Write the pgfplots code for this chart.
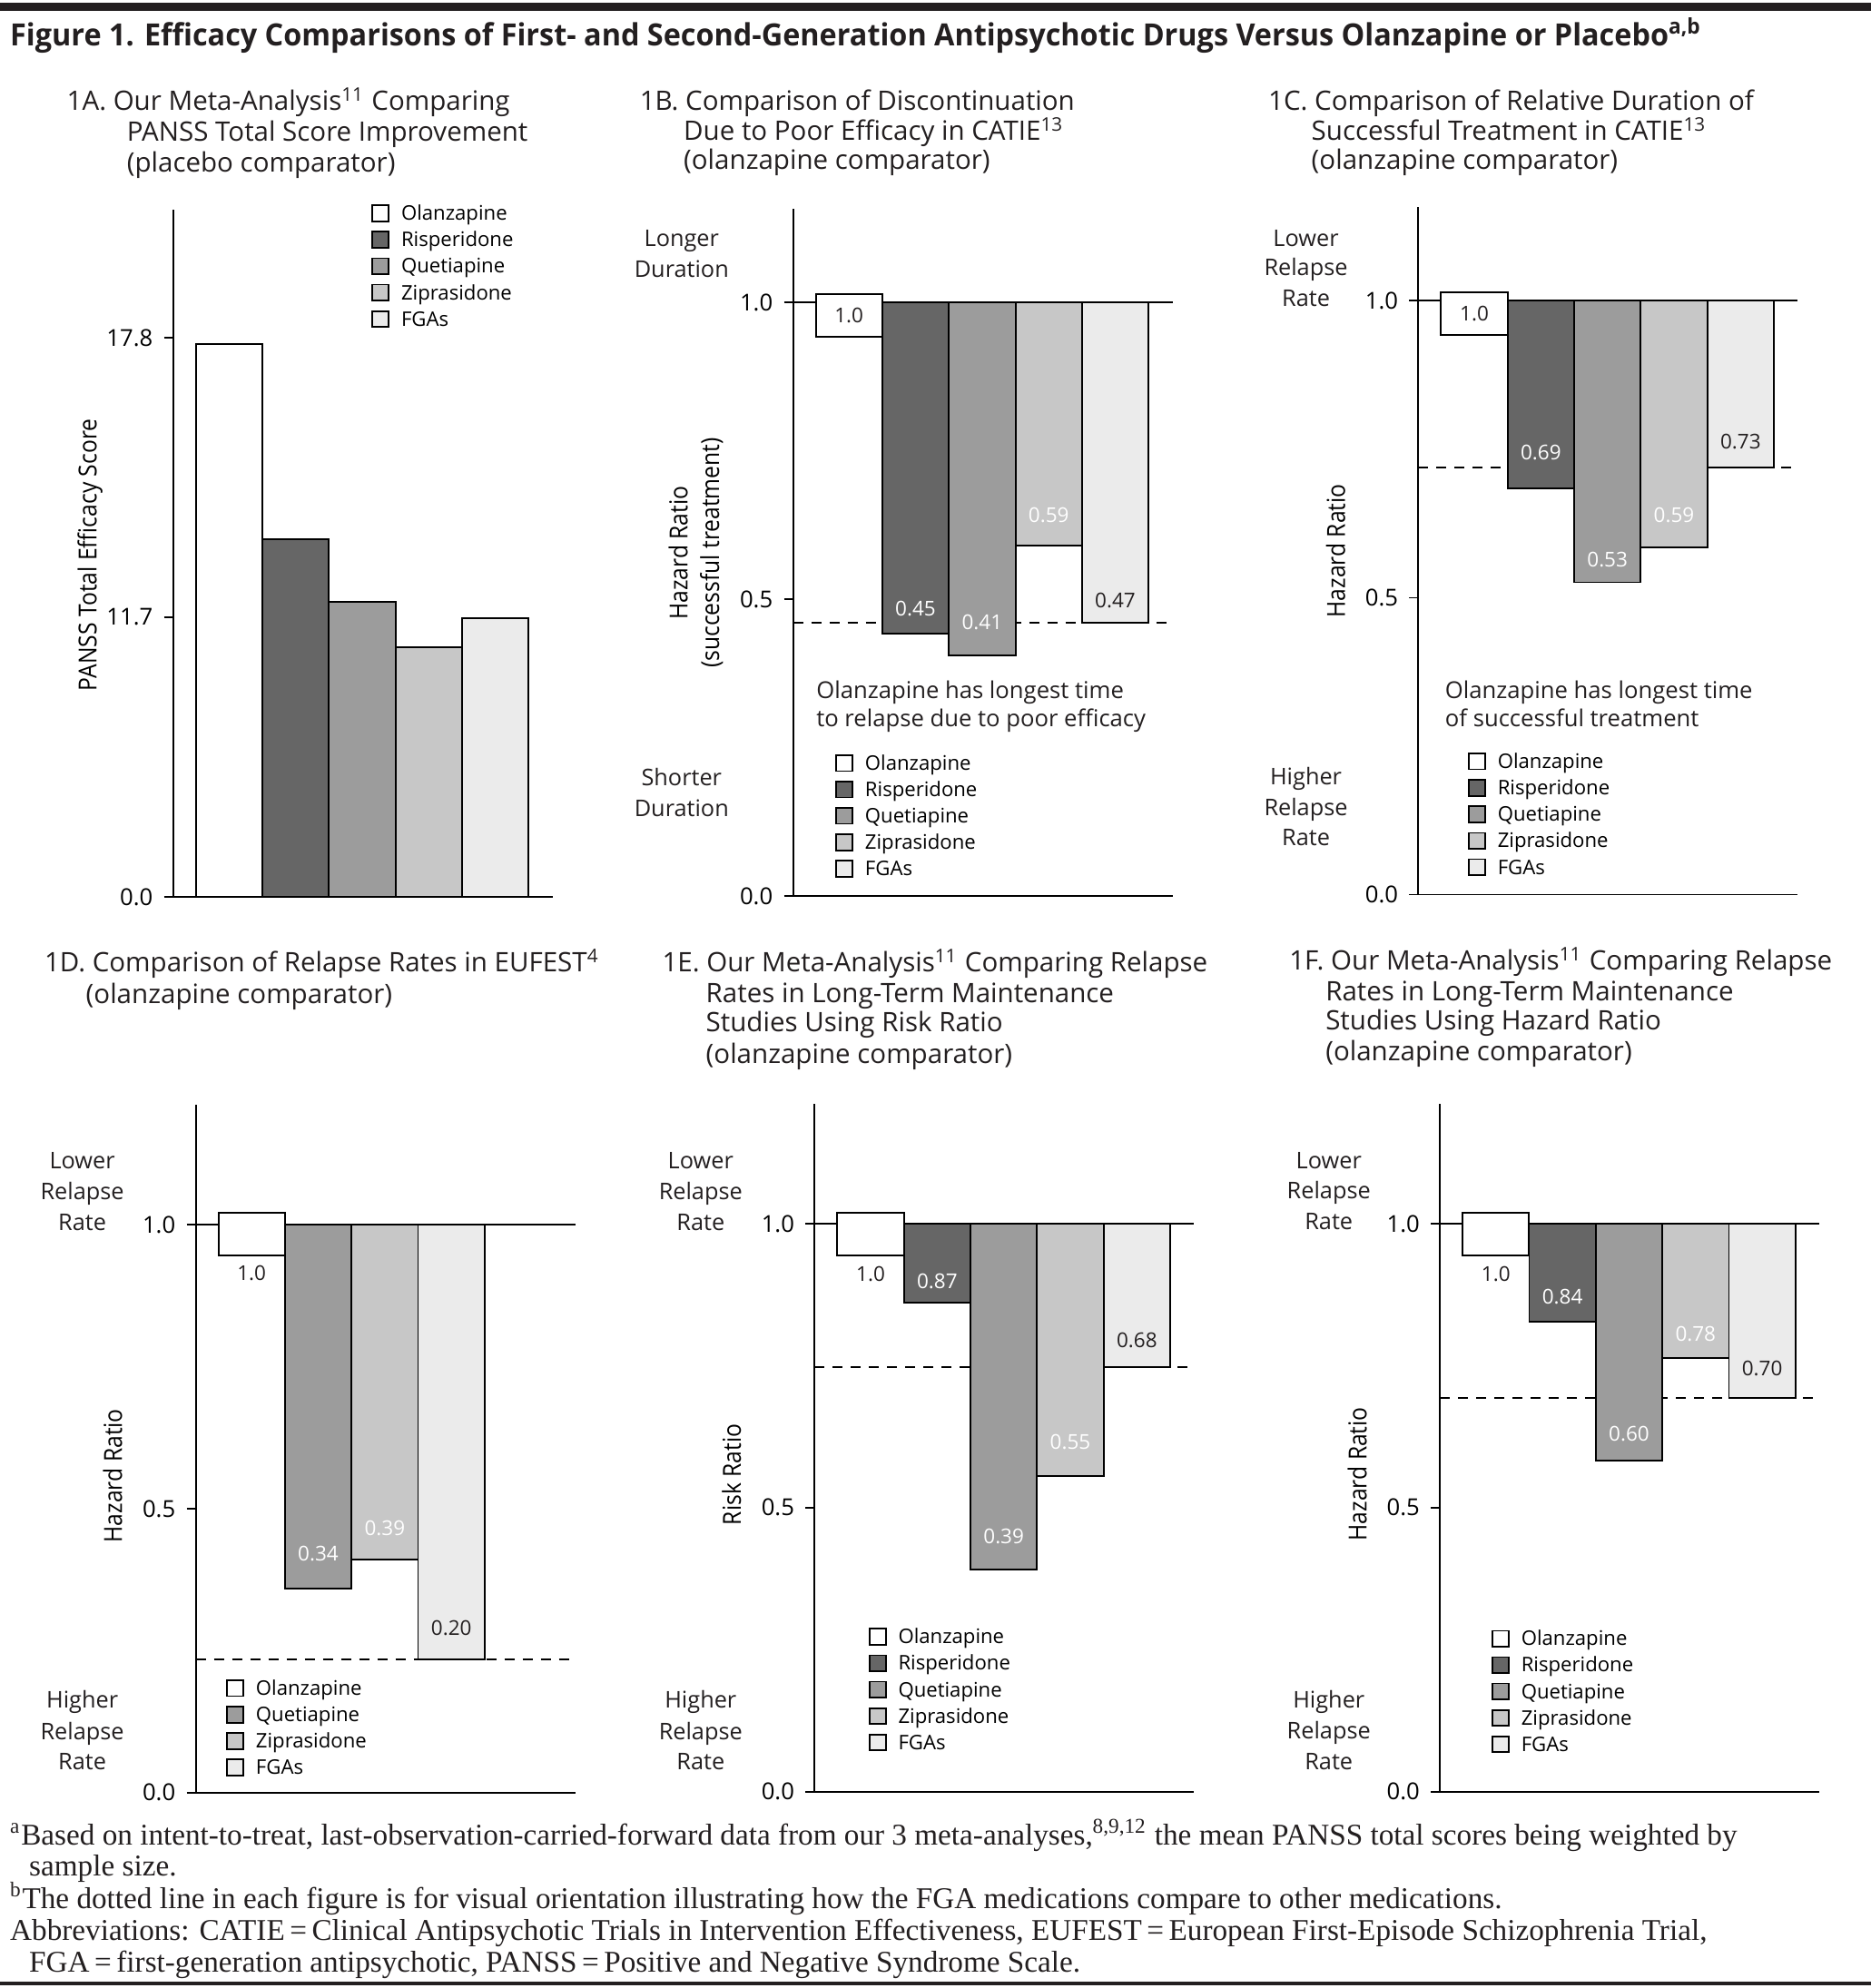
\documentclass[border=0pt]{standalone}
\usepackage{fontspec}
\usepackage{pgfplots}
\pgfplotsset{compat=1.18}
\setmainfont{Open Sans}
\newfontfamily\cond{Open Sans}[FakeStretch=0.9]
\newfontfamily\ttl{Open Sans}[FakeStretch=0.96]
\newfontfamily\foot{Liberation Serif}
\newcommand\fs[2]{\fontsize{#1}{#2}\selectfont}

\definecolor{cR}{gray}{0.40}
\definecolor{cQ}{gray}{0.61}
\definecolor{cZ}{gray}{0.78}
\definecolor{cF}{gray}{0.92}
\definecolor{ink}{HTML}{231F20}

\pgfplotsset{
  panel/.style={
    scale only axis, width=4.18cm, height=7.574cm, anchor=south west,
    xmin=-0.84, xmax=4.86, xtick=\empty,
    axis x line*=bottom, axis y line*=left,
    axis line style={line width=0.55pt, -},
    tick align=outside, major tick length=0.1cm,
    tick style={line width=0.55pt, black},
    yticklabel style={font=\fs{7.3}{8}},
    every axis y label/.style={rotate=90, anchor=center, align=center, font=\cond\fs{7.8}{9.9}},
    legend image code/.code={\draw[##1, line width=0.5pt] (0cm,-0.08cm) rectangle (0.18cm,0.095cm);},
    legend cell align=left,
    legend style={draw=none, fill=none, inner sep=0pt, outer sep=0pt, anchor=north west,
      font=\fs{6.3}{7.5}, row sep=0.051cm, column sep=0.13cm,
      nodes={inner sep=0pt, text height=0.19cm, text depth=0.05cm}},
  },
  hang/.style={panel, clip=false,
    y coord trafo/.code={\pgfmathparse{##1-1}},
    y coord inv trafo/.code={\pgfmathparse{##1+1}},
    ymin=0, ytick={0,0.5,1}, yticklabels={0.0,0.5,1.0}},
  ab/.style={ybar, bar width=1, bar shift=0pt, draw=black, line width=0.55pt, forget plot, fill=#1},
  hb/.style n args={3}{ybar, bar width=1, bar shift=0pt, draw=black, line width=0.55pt,
    forget plot, fill=#1, nodes near coords, point meta=explicit symbolic,
    every node near coord/.append style={font=\fs{6.4}{7}, anchor=center, inner sep=0pt,
      text=#2, yshift=#3*0.014cm}},
  olbox/.style={forget plot, draw=none, mark=none, nodes near coords, point meta=explicit symbolic,
    every node near coord/.append style={draw=black, fill=white, line width=0.55pt,
      minimum width=0.733cm, minimum height=0.47cm, inner sep=0pt, anchor=north,
      yshift=#1, font=\fs{6.4}{7}, text=ink}},
  olab/.style={forget plot, draw=none, mark=none, nodes near coords, point meta=explicit symbolic,
    every node near coord/.append style={anchor=center, inner sep=0pt, yshift=#1,
      font=\fs{6.4}{7}, text=ink}},
  ref/.style={forget plot, mark=none, black, line width=0.55pt},
  dsh/.style={forget plot, mark=none, black, line width=0.55pt, dash pattern=on 0.11cm off 0.09cm},
}

\newcommand\legO{\addlegendimage{fill=white,draw=black}\addlegendentry{Olanzapine}}
\newcommand\legR{\addlegendimage{fill=cR,draw=black}\addlegendentry{Risperidone}}
\newcommand\legQ{\addlegendimage{fill=cQ,draw=black}\addlegendentry{Quetiapine}}
\newcommand\legZ{\addlegendimage{fill=cZ,draw=black}\addlegendentry{Ziprasidone}}
\newcommand\legF{\addlegendimage{fill=cF,draw=black}\addlegendentry{FGAs}}

\begin{document}
\begin{tikzpicture}
\useasboundingbox (0,0) rectangle (20.6,-21.9);

% ---------- 1A ----------
\begin{axis}[panel, at={(1.907cm,-9.884cm)}, ymin=5.58, ymax=20.60,
  ytick={5.58,11.7,17.8}, yticklabels={0.0,11.7,17.8},
  ylabel={PANSS Total Efficacy Score},
  ylabel style={at={(axis description cs:-0.219,0.498)}},
  legend style={at={(axis description cs:0.523,1.0096)}}]
\legO \legR \legQ \legZ \legF
\addplot[ab=white] coordinates {(0,17.67)};
\addplot[ab=cR] coordinates {(1,13.40)};
\addplot[ab=cQ] coordinates {(2,12.04)};
\addplot[ab=cZ] coordinates {(3,11.05)};
\addplot[ab=cF] coordinates {(4,11.68)};
\end{axis}

% ---------- 1B ----------
\begin{axis}[hang, at={(8.736cm,-9.873cm)}, ymax=1.158,
  ylabel={Hazard Ratio\\(successful treatment)},
  ylabel style={at={(axis description cs:-0.256,0.4995)}},
  legend style={at={(axis description cs:0.1115,0.2085)}}]
\legO \legR \legQ \legZ \legF
\addplot[dsh] coordinates {(-0.84,0.460) (4.86,0.460)};
\addplot[ref] coordinates {(-0.84,1) (4.86,1)};
\addplot[hb={cR}{white}{19.7}] coordinates {(1,0.442) [0.45]};
\addplot[hb={cQ}{white}{26}] coordinates {(2,0.406) [0.41]};
\addplot[hb={cZ}{white}{24}] coordinates {(3,0.590) [0.59]};
\addplot[hb={cF}{ink}{17.6}] coordinates {(4,0.460) [0.47]};
\addplot[olbox=0.105cm] coordinates {(0,1) [1.0]};
\end{axis}

% ---------- 1C ----------
\begin{axis}[hang, at={(15.624cm,-9.855cm)}, ymax=1.158,
  ylabel={Hazard Ratio},
  ylabel style={at={(axis description cs:-0.218,0.50)}},
  legend style={at={(axis description cs:0.1306,0.2085)}}]
\legO \legR \legQ \legZ \legF
\addplot[dsh] coordinates {(-0.84,0.720) (4.86,0.720)};
\addplot[ref] coordinates {(-0.84,1) (4.86,1)};
\addplot[hb={cR}{white}{28.6}] coordinates {(1,0.684) [0.69]};
\addplot[hb={cQ}{white}{17.7}] coordinates {(2,0.526) [0.53]};
\addplot[hb={cZ}{white}{25.2}] coordinates {(3,0.585) [0.59]};
\addplot[hb={cF}{ink}{20.2}] coordinates {(4,0.720) [0.73]};
\addplot[olbox=0.101cm] coordinates {(0,1) [1.0]};
\end{axis}

% ---------- 1D ----------
\begin{axis}[hang, at={(2.156cm,-19.748cm)}, ymax=1.2106,
  ylabel={Hazard Ratio},
  ylabel style={at={(axis description cs:-0.219,0.461)}},
  legend style={at={(axis description cs:0.0804,0.1667)}}]
\legO \legQ \legZ \legF
\addplot[dsh] coordinates {(-0.84,0.234) (4.86,0.234)};
\addplot[ref] coordinates {(-0.84,1) (4.86,1)};
\addplot[hb={cQ}{white}{27.7}] coordinates {(1,0.359) [0.34]};
\addplot[hb={cZ}{white}{24.6}] coordinates {(2,0.411) [0.39]};
\addplot[hb={cF}{ink}{24.6}] coordinates {(3,0.234) [0.20]};
\addplot[olbox=0.137cm] coordinates {(0,1) [\phantom{1}]};
\addplot[olab=-0.532cm] coordinates {(0,1) [1.0]};
\end{axis}

% ---------- 1E ----------
\begin{axis}[hang, at={(8.974cm,-19.736cm)}, ymax=1.2106,
  ylabel={Risk Ratio},
  ylabel style={at={(axis description cs:-0.219,0.461)}},
  legend style={at={(axis description cs:0.142,0.240)}}]
\legO \legR \legQ \legZ \legF
\addplot[dsh] coordinates {(-0.84,0.748) (4.86,0.748)};
\addplot[ref] coordinates {(-0.84,1) (4.86,1)};
\addplot[hb={cR}{white}{16.6}] coordinates {(1,0.861) [0.87]};
\addplot[hb={cQ}{white}{26.4}] coordinates {(2,0.391) [0.39]};
\addplot[hb={cZ}{white}{26.3}] coordinates {(3,0.556) [0.55]};
\addplot[hb={cF}{ink}{21}] coordinates {(4,0.748) [0.68]};
\addplot[olbox=0.125cm] coordinates {(0,1) [\phantom{1}]};
\addplot[olab=-0.557cm] coordinates {(0,1) [1.0]};
\end{axis}

% ---------- 1F ----------
\begin{axis}[hang, at={(15.862cm,-19.736cm)}, ymax=1.2106,
  ylabel={Hazard Ratio},
  ylabel style={at={(axis description cs:-0.218,0.462)}},
  legend style={at={(axis description cs:0.136,0.2373)}}]
\legO \legR \legQ \legZ \legF
\addplot[dsh] coordinates {(-0.84,0.693) (4.86,0.693)};
\addplot[ref] coordinates {(-0.84,1) (4.86,1)};
\addplot[hb={cR}{white}{19.2}] coordinates {(1,0.828) [0.84]};
\addplot[hb={cQ}{white}{21}] coordinates {(2,0.583) [0.60]};
\addplot[hb={cZ}{white}{19.2}] coordinates {(3,0.763) [0.78]};
\addplot[hb={cF}{ink}{23.3}] coordinates {(4,0.693) [0.70]};
\addplot[olbox=0.125cm] coordinates {(0,1) [\phantom{1}]};
\addplot[olab=-0.557cm] coordinates {(0,1) [1.0]};
\end{axis}

% ---------- texts ----------
\begin{scope}[x=0.014cm, y=-0.014cm, every node/.style={inner sep=0pt, outer sep=0pt, text=ink}]
\fill[ink] (0,2.4) rectangle (1471.4,8.5);
\fill[ink] (0,1558.5) rectangle (1471.4,1561);
\node[anchor=base west, font=\ttl\bfseries\fs{9.6}{11}] at (8,36)
  {Figure 1. Efficacy Comparisons of First- and Second-Generation Antipsychotic Drugs Versus Olanzapine or Placebo\textsuperscript{a,b}};

\begin{scope}[every node/.append style={anchor=base west, font=\fs{8.4}{9.6}}]
\node at (52.6,87) {1A. Our Meta-Analysis\textsuperscript{11} Comparing};
\node at (99.8,111) {PANSS Total Score Improvement};
\node at (99.8,135) {(placebo comparator)};
\node at (503.2,87) {1B. Comparison of Discontinuation};
\node at (537.7,110) {Due to Poor Efficacy in CATIE\textsuperscript{13}};
\node at (537.7,133) {(olanzapine comparator)};
\node at (997.5,87) {1C. Comparison of Relative Duration of};
\node at (1031.4,110) {Successful Treatment in CATIE\textsuperscript{13}};
\node at (1031.4,133) {(olanzapine comparator)};
\node at (35,764.5) {1D. Comparison of Relapse Rates in EUFEST\textsuperscript{4}};
\node at (67.6,789) {(olanzapine comparator)};
\node at (520.8,764.5) {1E. Our Meta-Analysis\textsuperscript{11} Comparing Relapse};
\node at (555.2,788.2) {Rates in Long-Term Maintenance};
\node at (555.2,811.4) {Studies Using Risk Ratio};
\node at (555.2,836) {(olanzapine comparator)};
\node at (1014,763) {1F. Our Meta-Analysis\textsuperscript{11} Comparing Relapse};
\node at (1042.5,787) {Rates in Long-Term Maintenance};
\node at (1042.5,810) {Studies Using Hazard Ratio};
\node at (1042.5,834) {(olanzapine comparator)};
\end{scope}

\begin{scope}[every node/.append style={anchor=base, font=\fs{7.2}{9}}]
\node at (536,194) {Longer};  \node at (536,218) {Duration};
\node at (536,618) {Shorter}; \node at (536,642) {Duration};
\node at (1027,193.5) {Lower};  \node at (1027,217) {Relapse};  \node at (1027,241) {Rate};
\node at (1027,617.5) {Higher}; \node at (1027,641.5) {Relapse}; \node at (1027,665) {Rate};
\node at (64.7,919.5) {Lower};  \node at (64.7,943.5) {Relapse}; \node at (64.7,967.5) {Rate};
\node at (64.7,1343.5) {Higher};\node at (64.7,1368) {Relapse};  \node at (64.7,1392) {Rate};
\node at (551,919.5) {Lower};   \node at (551,943.5) {Relapse};  \node at (551,967.5) {Rate};
\node at (551,1343.5) {Higher}; \node at (551,1368) {Relapse};   \node at (551,1391.5) {Rate};
\node at (1045,919) {Lower};    \node at (1045,943) {Relapse};   \node at (1045,967) {Rate};
\node at (1045,1343.5) {Higher};\node at (1045,1367.5) {Relapse};\node at (1045,1391.5) {Rate};
\end{scope}

\begin{scope}[every node/.append style={anchor=base west, font=\fs{7.3}{8.7}}]
\node at (642,549.5) {Olanzapine has longest time};
\node at (642,571.3) {to relapse due to poor efficacy};
\node at (1136.5,549.5) {Olanzapine has longest time};
\node at (1136.5,571.3) {of successful treatment};
\end{scope}

\begin{scope}[every node/.append style={anchor=base west, font=\foot\fs{9.45}{11}}]
\node at (8,1451) {\textsuperscript{a}Based on intent-to-treat, last-observation-carried-forward data from our 3 meta-analyses,\textsuperscript{8,9,12} the mean PANSS total scores being weighted by};
\node at (23,1475) {sample size.};
\node at (8,1501) {\textsuperscript{b}The dotted line in each figure is for visual orientation illustrating how the FGA medications compare to other medications.};
\node at (8,1526) {Abbreviations: CATIE\,=\,Clinical Antipsychotic Trials in Intervention Effectiveness, EUFEST\,=\,European First-Episode Schizophrenia Trial,};
\node at (23,1551) {FGA\,=\,first-generation antipsychotic, PANSS\,=\,Positive and Negative Syndrome Scale.};
\end{scope}
\end{scope}
\end{tikzpicture}
\end{document}
